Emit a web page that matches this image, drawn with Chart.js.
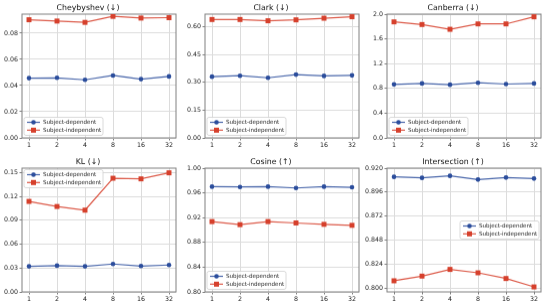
<!DOCTYPE html>
<html><head><meta charset="utf-8">
<script src="https://cdn.jsdelivr.net/npm/chart.js@4"></script>
<style>
body{margin:0;background:#fff;width:548px;height:308px;position:relative;overflow:hidden}
canvas{position:absolute}
</style>
</head><body>
<script>
// ---- data ----
const xLabels = ['1', '2', '4', '8', '16', '32'];
const seriesNames = ['Subject-dependent', 'Subject-independent'];

const chebDep   = [0.0457, 0.0459, 0.0444, 0.0477, 0.0449, 0.0470];
const chebIndep = [0.0903, 0.0893, 0.0883, 0.0929, 0.0916, 0.0919];
const chebTicks = ['0.00', '0.02', '0.04', '0.06', '0.08'];

const clarkDep   = [0.331, 0.336, 0.325, 0.342, 0.335, 0.338];
const clarkIndep = [0.640, 0.640, 0.633, 0.638, 0.647, 0.655];
const clarkTicks = ['0.00', '0.15', '0.30', '0.45', '0.60'];

const canbDep   = [0.864, 0.880, 0.859, 0.891, 0.870, 0.880];
const canbIndep = [1.875, 1.832, 1.755, 1.842, 1.842, 1.957];
const canbTicks = ['0.0', '0.4', '0.8', '1.2', '1.6', '2.0'];

const klDep   = [0.0321, 0.0330, 0.0321, 0.0351, 0.0325, 0.0338];
const klIndep = [0.1137, 0.1073, 0.1027, 0.1428, 0.1420, 0.1496];
const klTicks = ['0.00', '0.03', '0.06', '0.09', '0.12', '0.15'];

const cosDep   = [0.9701, 0.9696, 0.9701, 0.9679, 0.9701, 0.9690];
const cosIndep = [0.9136, 0.9087, 0.9136, 0.9114, 0.9092, 0.9076];
const cosTicks = ['0.80', '0.84', '0.88', '0.92', '0.96', '1.00'];

const interDep   = [0.9113, 0.9103, 0.9123, 0.9086, 0.9106, 0.9096];
const interIndep = [0.8074, 0.8121, 0.8188, 0.8154, 0.8097, 0.8013];
const interTicks = ['0.800', '0.824', '0.848', '0.872', '0.896', '0.920'];

// ---- panels (layout) ----
const panels = [
  {title:'Cheybyshev (↓)', dep:chebDep, ind:chebIndep, ticks:chebTicks, min:0, max:0.0946, col:0, row:0, legend:'lowerleft'},
  {title:'Clark (↓)', dep:clarkDep, ind:clarkIndep, ticks:clarkTicks, min:0, max:0.669, col:1, row:0, legend:'lowerleft'},
  {title:'Canberra (↓)', dep:canbDep, ind:canbIndep, ticks:canbTicks, min:0, max:2.0, col:2, row:0, legend:'lowerleft'},
  {title:'KL (↓)', dep:klDep, ind:klIndep, ticks:klTicks, min:0, max:0.1555, col:0, row:1, legend:'upperleft'},
  {title:'Cosine (↑)', dep:cosDep, ind:cosIndep, ticks:cosTicks, min:0.80, max:1.00, col:1, row:1, legend:'lowerleft'},
  {title:'Intersection (↑)', dep:interDep, ind:interIndep, ticks:interTicks, min:0.7963, max:0.920, col:2, row:1, legend:'centerright'}
];

const BLUE = '#2b4d9c', RED = '#d6402c';
const FONT = "'DejaVu Sans', sans-serif";
const plotLefts = [22, 204.5, 387];
const plotW = 154;
const plotTops = [14, 168];
const plotH = 123.5;
const yAxisW = 22, titleH = 14, xAxisH = 16;

const legendPlugin = {
  id: 'panelLegend',
  beforeDatasetsDraw(chart) {
    const ctx = chart.ctx, a = chart.chartArea;
    ctx.save();
    ctx.strokeStyle = '#808080';
    ctx.lineWidth = 1;
    ctx.strokeRect(a.left, a.top, a.right - a.left, a.bottom - a.top);
    ctx.restore();
  },
  afterDraw(chart) {
    const pos = chart.options.plugins.panelLegend.position;
    const ctx = chart.ctx, a = chart.chartArea;
    const w = 79, h = 18;
    let x, y;
    if (pos === 'lowerleft') { x = a.left + 2; y = a.bottom - 2.5 - h; }
    else if (pos === 'upperleft') { x = a.left + 2; y = a.top + 1.5; }
    else { x = a.right - 2 - w; y = (a.top + a.bottom) / 2 - h / 2; }
    ctx.save();
    ctx.beginPath();
    ctx.roundRect(x, y, w, h, 2);
    ctx.fillStyle = 'rgba(255,255,255,0.85)';
    ctx.fill();
    ctx.strokeStyle = '#d0d0d0';
    ctx.lineWidth = 0.8;
    ctx.stroke();
    chart.data.datasets.forEach((ds, i) => {
      const cy = y + 5 + i * 7.8;
      ctx.strokeStyle = ds.borderColor;
      ctx.lineWidth = 1.2;
      ctx.beginPath(); ctx.moveTo(x + 3, cy); ctx.lineTo(x + 16, cy); ctx.stroke();
      ctx.fillStyle = ds.pointBackgroundColor;
      if (ds.pointStyle === 'rect') { ctx.fillRect(x + 9.5 - 2.5, cy - 2.5, 5, 5); }
      else { ctx.beginPath(); ctx.arc(x + 9.5, cy, 2.3, 0, Math.PI * 2); ctx.fill(); }
      ctx.fillStyle = '#222';
      ctx.font = '5.6px ' + FONT;
      ctx.textBaseline = 'middle';
      ctx.textAlign = 'left';
      ctx.fillText(ds.label, x + 19, cy + 0.3);
    });
    ctx.restore();
  }
};

panels.forEach(p => {
  const cv = document.createElement('canvas');
  const left = plotLefts[p.col] - yAxisW;
  const top = plotTops[p.row] - titleH;
  const width = yAxisW + plotW + 6;
  const height = titleH + plotH + xAxisH;
  cv.width = width; cv.height = height;
  cv.style.left = left + 'px'; cv.style.top = top + 'px';
  cv.style.width = width + 'px'; cv.style.height = height + 'px';
  document.body.appendChild(cv);
  const tickVals = p.ticks.map(parseFloat);
  new Chart(cv, {
    type: 'line',
    data: {
      datasets: [
        {label: seriesNames[0], data: p.dep.map((v, i) => ({x: i, y: v})),
         borderColor: 'rgba(43,77,156,0.85)', backgroundColor: BLUE, pointBackgroundColor: BLUE,
         pointBorderWidth: 0, pointRadius: 2.3, pointStyle: 'circle', borderWidth: 1.2, tension: 0},
        {label: seriesNames[1], data: p.ind.map((v, i) => ({x: i, y: v})),
         borderColor: 'rgba(214,64,44,0.85)', backgroundColor: RED, pointBackgroundColor: RED,
         pointBorderWidth: 0, pointRadius: 3.5, pointStyle: 'rect', borderWidth: 1.2, tension: 0}
      ]
    },
    options: {
      responsive: false, animation: false, devicePixelRatio: 1,
      layout: {padding: {left: 0, right: 6, top: 0, bottom: 0}},
      plugins: {
        legend: {display: false}, tooltip: {enabled: false},
        title: {display: true, text: p.title, color: '#111',
                font: {family: FONT, size: 7.8, weight: 'normal', lineHeight: 1.2},
                padding: {top: 3, bottom: titleH - 3 - 7.8 * 1.2}},
        panelLegend: {position: p.legend}
      },
      scales: {
        x: {
          type: 'linear', min: -0.25, max: 5.25,
          afterBuildTicks: s => { s.ticks = xLabels.map((l, i) => ({value: i})); },
          afterFit: s => { s.height = xAxisH; },
          ticks: {callback: (v) => xLabels[v], font: {family: FONT, size: 6.3}, color: '#222', padding: 1, maxRotation: 0, autoSkip: false},
          grid: {color: '#dcdcdc', lineWidth: 1, tickLength: 2.5, tickColor: '#808080', drawTicks: true},
          border: {display: false}
        },
        y: {
          type: 'linear', min: p.min, max: p.max,
          afterBuildTicks: s => { s.ticks = tickVals.map(v => ({value: v})); },
          afterFit: s => { s.width = yAxisW; },
          ticks: {callback: (v) => p.ticks[tickVals.indexOf(v)] ?? '', font: {family: FONT, size: 6.3}, color: '#222', padding: 1.5},
          grid: {color: '#dcdcdc', lineWidth: 1, tickLength: 2.5, tickColor: '#808080', drawTicks: true},
          border: {display: false}
        }
      }
    },
    plugins: [legendPlugin]
  });
});
</script>
</body></html>
